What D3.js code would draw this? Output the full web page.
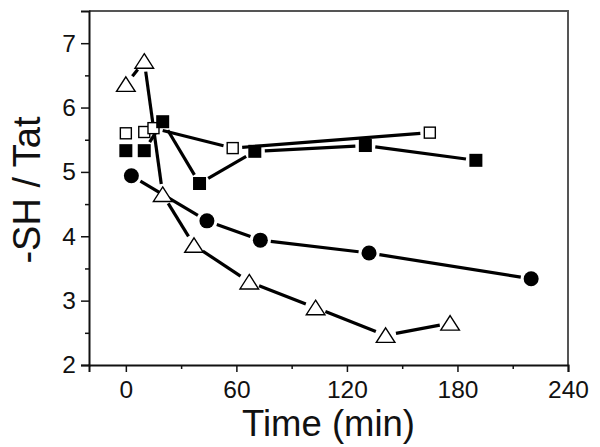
<!DOCTYPE html>
<html><head><meta charset="utf-8">
<script src="https://cdn.jsdelivr.net/npm/d3@7"></script>
<style>html,body{margin:0;padding:0;background:#fff;} svg{display:block;font-family:"Liberation Sans",Arial,sans-serif;}</style>
</head><body><svg id="c" width="600" height="447"></svg>
<script>
// Data (Time in min, -SH/Tat)
const triTime = [0, 10, 20, 37, 67, 103, 141, 176];
const triVal  = [6.36, 6.72, 4.65, 3.86, 3.29, 2.89, 2.46, 2.65];
const circTime = [3, 44, 73, 132, 220];
const circVal  = [4.94, 4.24, 3.94, 3.74, 3.34];
const fsqTime = [0, 10, 20, 40, 70, 130, 190];
const fsqVal  = [5.33, 5.33, 5.78, 4.82, 5.32, 5.41, 5.18];
const osqTime = [0, 10, 15, 58, 165];
const osqVal  = [5.60, 5.62, 5.68, 5.37, 5.61];
const xTicks = [0, 60, 120, 180, 240];
const xMinor = [30, 90, 150, 210];
const yTicks = [2, 3, 4, 5, 6, 7];
const yMinor = [2.5, 3.5, 4.5, 5.5, 6.5];

const L = 89, R = 568, T = 11, B = 365;
const svg = d3.select("#c");
const x = d3.scaleLinear().domain([-20, 240]).range([L, R]);
const y = d3.scaleLinear().domain([2, 7.5]).range([B, T]);

// frame (top, right)
svg.append("path").attr("d", `M${L},${T}H${R}V${B}`).attr("fill","none").attr("stroke","#555").attr("stroke-width",2);

// axes
const gx = svg.append("g").attr("transform", `translate(0,${B})`)
  .call(d3.axisBottom(x).tickValues(xTicks).tickSize(7).tickPadding(9).tickFormat(d3.format("d")));
const gxm = svg.append("g").attr("transform", `translate(0,${B})`)
  .call(d3.axisBottom(x).tickValues(xMinor).tickSize(4).tickFormat(""));
const gy = svg.append("g").attr("transform", `translate(${L},0)`)
  .call(d3.axisLeft(y).tickValues(yTicks).tickSize(8).tickPadding(5).tickFormat(d3.format("d")));
const gym = svg.append("g").attr("transform", `translate(${L},0)`)
  .call(d3.axisLeft(y).tickValues(yMinor).tickSize(4).tickFormat(""));
[gx, gxm, gy, gym].forEach(g => {
  g.select(".domain").attr("stroke","#111").attr("stroke-width",2);
  g.selectAll(".tick line").attr("stroke","#111").attr("stroke-width",1.5);
  g.selectAll("text").attr("font-size",24.5).attr("fill","#111").attr("font-family","'Liberation Sans',Arial,sans-serif");
});
gym.select(".domain").remove();
gxm.select(".domain").remove();

// titles
svg.append("text").attr("x", (L+R)/2).attr("y", 436).attr("text-anchor","middle")
  .attr("font-size",36.5).attr("fill","#111").text("Time (min)");
svg.append("text").attr("transform", `translate(40,${(T+B)/2+2}) rotate(-90)`).attr("text-anchor","middle")
  .attr("font-size",38).attr("fill","#111").text("-SH / Tat");

// series lines with gaps near markers
function gapLines(xs, ys, gap) {
  const pts = xs.map((t,i)=>[x(t), y(ys[i])]);
  const g = svg.append("g");
  for (let i=0;i<pts.length-1;i++){
    const [x1,y1]=pts[i],[x2,y2]=pts[i+1];
    const dx=x2-x1, dy=y2-y1, len=Math.hypot(dx,dy);
    if (len <= 2*gap+1) continue;
    const ux=dx/len, uy=dy/len;
    g.append("line").attr("x1",x1+ux*gap).attr("y1",y1+uy*gap)
      .attr("x2",x2-ux*gap).attr("y2",y2-uy*gap)
      .attr("stroke","#000").attr("stroke-width",3.2);
  }
}
gapLines(osqTime, osqVal, 9.5);
gapLines(fsqTime, fsqVal, 10);
gapLines(circTime, circVal, 10.5);
gapLines(triTime, triVal, 10.5);

// markers
svg.append("g").selectAll("rect").data(osqTime).join("rect")
  .attr("x",(d,i)=>x(d)-5.5).attr("y",(d,i)=>y(osqVal[i])-5.5).attr("width",11).attr("height",11)
  .attr("fill","#fff").attr("stroke","#000").attr("stroke-width",1.4);
svg.append("g").selectAll("rect").data(fsqTime).join("rect")
  .attr("x",(d,i)=>x(d)-6.5).attr("y",(d,i)=>y(fsqVal[i])-6.5).attr("width",13).attr("height",13)
  .attr("fill","#000");
svg.append("g").selectAll("circle").data(circTime).join("circle")
  .attr("cx",d=>x(d)).attr("cy",(d,i)=>y(circVal[i])).attr("r",7.5).attr("fill","#000");
svg.append("g").selectAll("path").data(triTime).join("path")
  .attr("d",(d,i)=>{const cx=x(d), cy=y(triVal[i]); return `M${cx},${cy-7.5}L${cx+9.3},${cy+7}L${cx-9.3},${cy+7}Z`;})
  .attr("fill","#fff").attr("stroke","#000").attr("stroke-width",1.4);
</script></body></html>
